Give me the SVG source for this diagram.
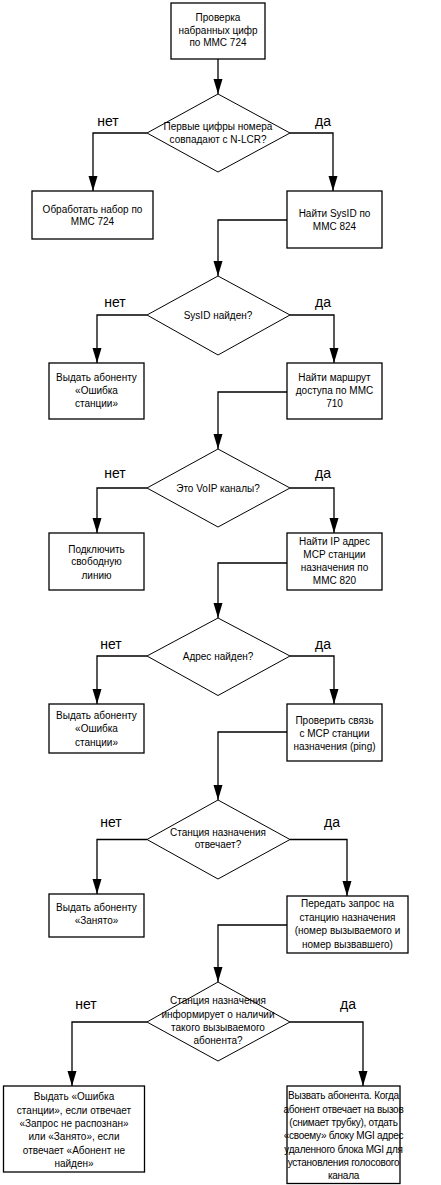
<svg xmlns="http://www.w3.org/2000/svg" width="441" height="1185" viewBox="0 0 441 1185">
  <style>
    .box { fill: #fff; stroke: #000; stroke-width: 1.3; }
    .dec { fill: #fff; stroke: #000; stroke-width: 1; }
    .t { font-family: "Liberation Sans", Arial, sans-serif; font-size: 10px; fill: #000; text-anchor: middle; }
    .tight { letter-spacing: -0.25px; }
    .lbl { font-family: "Liberation Sans", Arial, sans-serif; font-size: 14px; fill: #000; text-anchor: middle; }
    .edge { fill: none; stroke: #000; stroke-width: 1.3; marker-end: url(#arr); }
  </style>
  <defs>
    <marker id="arr" viewBox="0 -5 15 10" refX="15" refY="0" markerWidth="15" markerHeight="10" markerUnits="userSpaceOnUse" orient="auto">
      <path d="M0,-4.5 L15,0 L0,4.5 z" fill="#000"/>
    </marker>
  </defs>

  <!-- connectors -->
  <g id="connectors">
    <path class="edge" d="M218,59 V94"/>
    <path class="edge" d="M147,133 H93 V191"/>
    <path class="edge" d="M290,133 H333 V191"/>
    <path class="edge" d="M287,220 H218 V276"/>
    <path class="edge" d="M147,315 H97 V363"/>
    <path class="edge" d="M290,315 H334 V363"/>
    <path class="edge" d="M287,392 H218 V449"/>
    <path class="edge" d="M147,488 H97 V533"/>
    <path class="edge" d="M290,488 H334 V533"/>
    <path class="edge" d="M287,563 H218 V618"/>
    <path class="edge" d="M147,656 H97 V704"/>
    <path class="edge" d="M290,656 H334 V704"/>
    <path class="edge" d="M287,732 H218 V800"/>
    <path class="edge" d="M147,839.5 H97 V894"/>
    <path class="edge" d="M290,839.5 H347 V896"/>
    <path class="edge" d="M287,925 H218 V982"/>
    <path class="edge" d="M147,1022 H72 V1086"/>
    <path class="edge" d="M290,1022 H363 V1086"/>
  </g>

  <!-- branch labels -->
  <g id="labels">
    <text class="lbl" x="108" y="126">нет</text>
    <text class="lbl" x="323" y="126">да</text>
    <text class="lbl" x="115" y="307">нет</text>
    <text class="lbl" x="323" y="307">да</text>
    <text class="lbl" x="115" y="478">нет</text>
    <text class="lbl" x="323" y="478">да</text>
    <text class="lbl" x="111" y="649">нет</text>
    <text class="lbl" x="323" y="649">да</text>
    <text class="lbl" x="111" y="827">нет</text>
    <text class="lbl" x="332" y="827">да</text>
    <text class="lbl" x="86" y="1009">нет</text>
    <text class="lbl" x="348" y="1009">да</text>
  </g>

  <g id="n_check">
    <rect class="box" x="171" y="3" width="94" height="56"/>
    <text class="t" x="218" y="21">Проверка</text>
    <text class="t" x="218" y="33.5">набранных цифр</text>
    <text class="t" x="218" y="46">по MMC 724</text>
  </g>

  <g id="d_prefix">
    <polygon class="dec" points="218,94 290,133 218,172 147,133"/>
    <text class="t" x="218" y="129.5">Первые цифры номера</text>
    <text class="t" x="218" y="142.5">совпадают с N-LCR?</text>
  </g>

  <g id="n_process">
    <rect class="box" x="32" y="191" width="121" height="48"/>
    <text class="t" x="92.5" y="212.5">Обработать набор по</text>
    <text class="t" x="92.5" y="224.5">MMC 724</text>
  </g>

  <g id="n_sysid">
    <rect class="box" x="287" y="191" width="95" height="57"/>
    <text class="t" x="334.5" y="216.5">Найти SysID по</text>
    <text class="t" x="334.5" y="230">MMC 824</text>
  </g>

  <g id="d_sysid">
    <polygon class="dec" points="218,276 290,315 218,355 147,315"/>
    <text class="t" x="218" y="318.5">SysID найден?</text>
  </g>

  <g id="n_err1">
    <rect class="box" x="49" y="363" width="95" height="56"/>
    <text class="t" x="96.5" y="381">Выдать абоненту</text>
    <text class="t" x="96.5" y="394">«Ошибка</text>
    <text class="t" x="96.5" y="407">станции»</text>
  </g>

  <g id="n_route">
    <rect class="box" x="287" y="363" width="95" height="56"/>
    <text class="t" x="334.5" y="381">Найти маршрут</text>
    <text class="t" x="334.5" y="394">доступа по MMC</text>
    <text class="t" x="334.5" y="407">710</text>
  </g>

  <g id="d_voip">
    <polygon class="dec" points="218,449 290,488 218,527 147,488"/>
    <text class="t" x="218" y="491.5">Это VoIP каналы?</text>
  </g>

  <g id="n_free">
    <rect class="box" x="49" y="533" width="95" height="57"/>
    <text class="t" x="96.5" y="552.5">Подключить</text>
    <text class="t" x="96.5" y="565">свободную</text>
    <text class="t" x="96.5" y="578.5">линию</text>
  </g>

  <g id="n_ip">
    <rect class="box" x="287" y="533" width="95" height="57"/>
    <text class="t" x="334.5" y="545">Найти IP адрес</text>
    <text class="t" x="334.5" y="558">MCP станции</text>
    <text class="t" x="334.5" y="571">назначения по</text>
    <text class="t" x="334.5" y="584">MMC 820</text>
  </g>

  <g id="d_addr">
    <polygon class="dec" points="218,618 290,656 218,695.5 147,656"/>
    <text class="t" x="218" y="659.5">Адрес найден?</text>
  </g>

  <g id="n_err2">
    <rect class="box" x="49" y="704" width="95" height="49"/>
    <text class="t" x="96.5" y="719">Выдать абоненту</text>
    <text class="t" x="96.5" y="732">«Ошибка</text>
    <text class="t" x="96.5" y="745.5">станции»</text>
  </g>

  <g id="n_ping">
    <rect class="box" x="287" y="704" width="95" height="57"/>
    <text class="t" x="334.5" y="723.5">Проверить связь</text>
    <text class="t" x="334.5" y="736.5">с MCP станции</text>
    <text class="t" x="334.5" y="749.5">назначения (ping)</text>
  </g>

  <g id="d_reply">
    <polygon class="dec" points="218,800 290,839.5 218,879 147,839.5"/>
    <text class="t" x="218" y="836">Станция назначения</text>
    <text class="t" x="218" y="847.5">отвечает?</text>
  </g>

  <g id="n_busy">
    <rect class="box" x="49" y="894" width="95" height="43"/>
    <text class="t" x="96.5" y="911">Выдать абоненту</text>
    <text class="t" x="96.5" y="924">«Занято»</text>
  </g>

  <g id="n_request">
    <rect class="box" x="287" y="896" width="121" height="57"/>
    <text class="t" x="347.5" y="907">Передать запрос на</text>
    <text class="t" x="347.5" y="920.5">станцию назначения</text>
    <text class="t" x="347.5" y="934">(номер вызываемого и</text>
    <text class="t" x="347.5" y="947.5">номер вызвавшего)</text>
  </g>

  <g id="d_exists">
    <polygon class="dec" points="218,982 290,1022 218,1061 147,1022"/>
    <text class="t" x="218" y="1004">Станция назначения</text>
    <text class="t" x="218" y="1017.5">информирует о наличии</text>
    <text class="t" x="218" y="1031">такого вызываемого</text>
    <text class="t" x="218" y="1044">абонента?</text>
  </g>

  <g id="n_fail">
    <rect class="box" x="3.5" y="1086" width="141" height="86"/>
    <text class="t" x="74" y="1100">Выдать «Ошибка</text>
    <text class="t" x="74" y="1113.5">станции», если отвечает</text>
    <text class="t" x="74" y="1127">«Запрос не распознан»</text>
    <text class="t" x="74" y="1140">или «Занято», если</text>
    <text class="t" x="74" y="1153.5">отвечает «Абонент не</text>
    <text class="t" x="74" y="1167">найден»</text>
  </g>

  <g id="n_call">
    <rect class="box" x="287" y="1086" width="113" height="97.5"/>
    <text class="t tight" x="343.5" y="1099">Вызвать абонента. Когда</text>
    <text class="t tight" x="343.5" y="1112.5">абонент отвечает на вызов</text>
    <text class="t tight" x="343.5" y="1126">(снимает трубку), отдать</text>
    <text class="t tight" x="343.5" y="1139">«своему» блоку MGI адрес</text>
    <text class="t tight" x="343.5" y="1152.5">удаленного блока MGI для</text>
    <text class="t tight" x="343.5" y="1166">установления голосового</text>
    <text class="t tight" x="343.5" y="1179">канала</text>
  </g>
</svg>
